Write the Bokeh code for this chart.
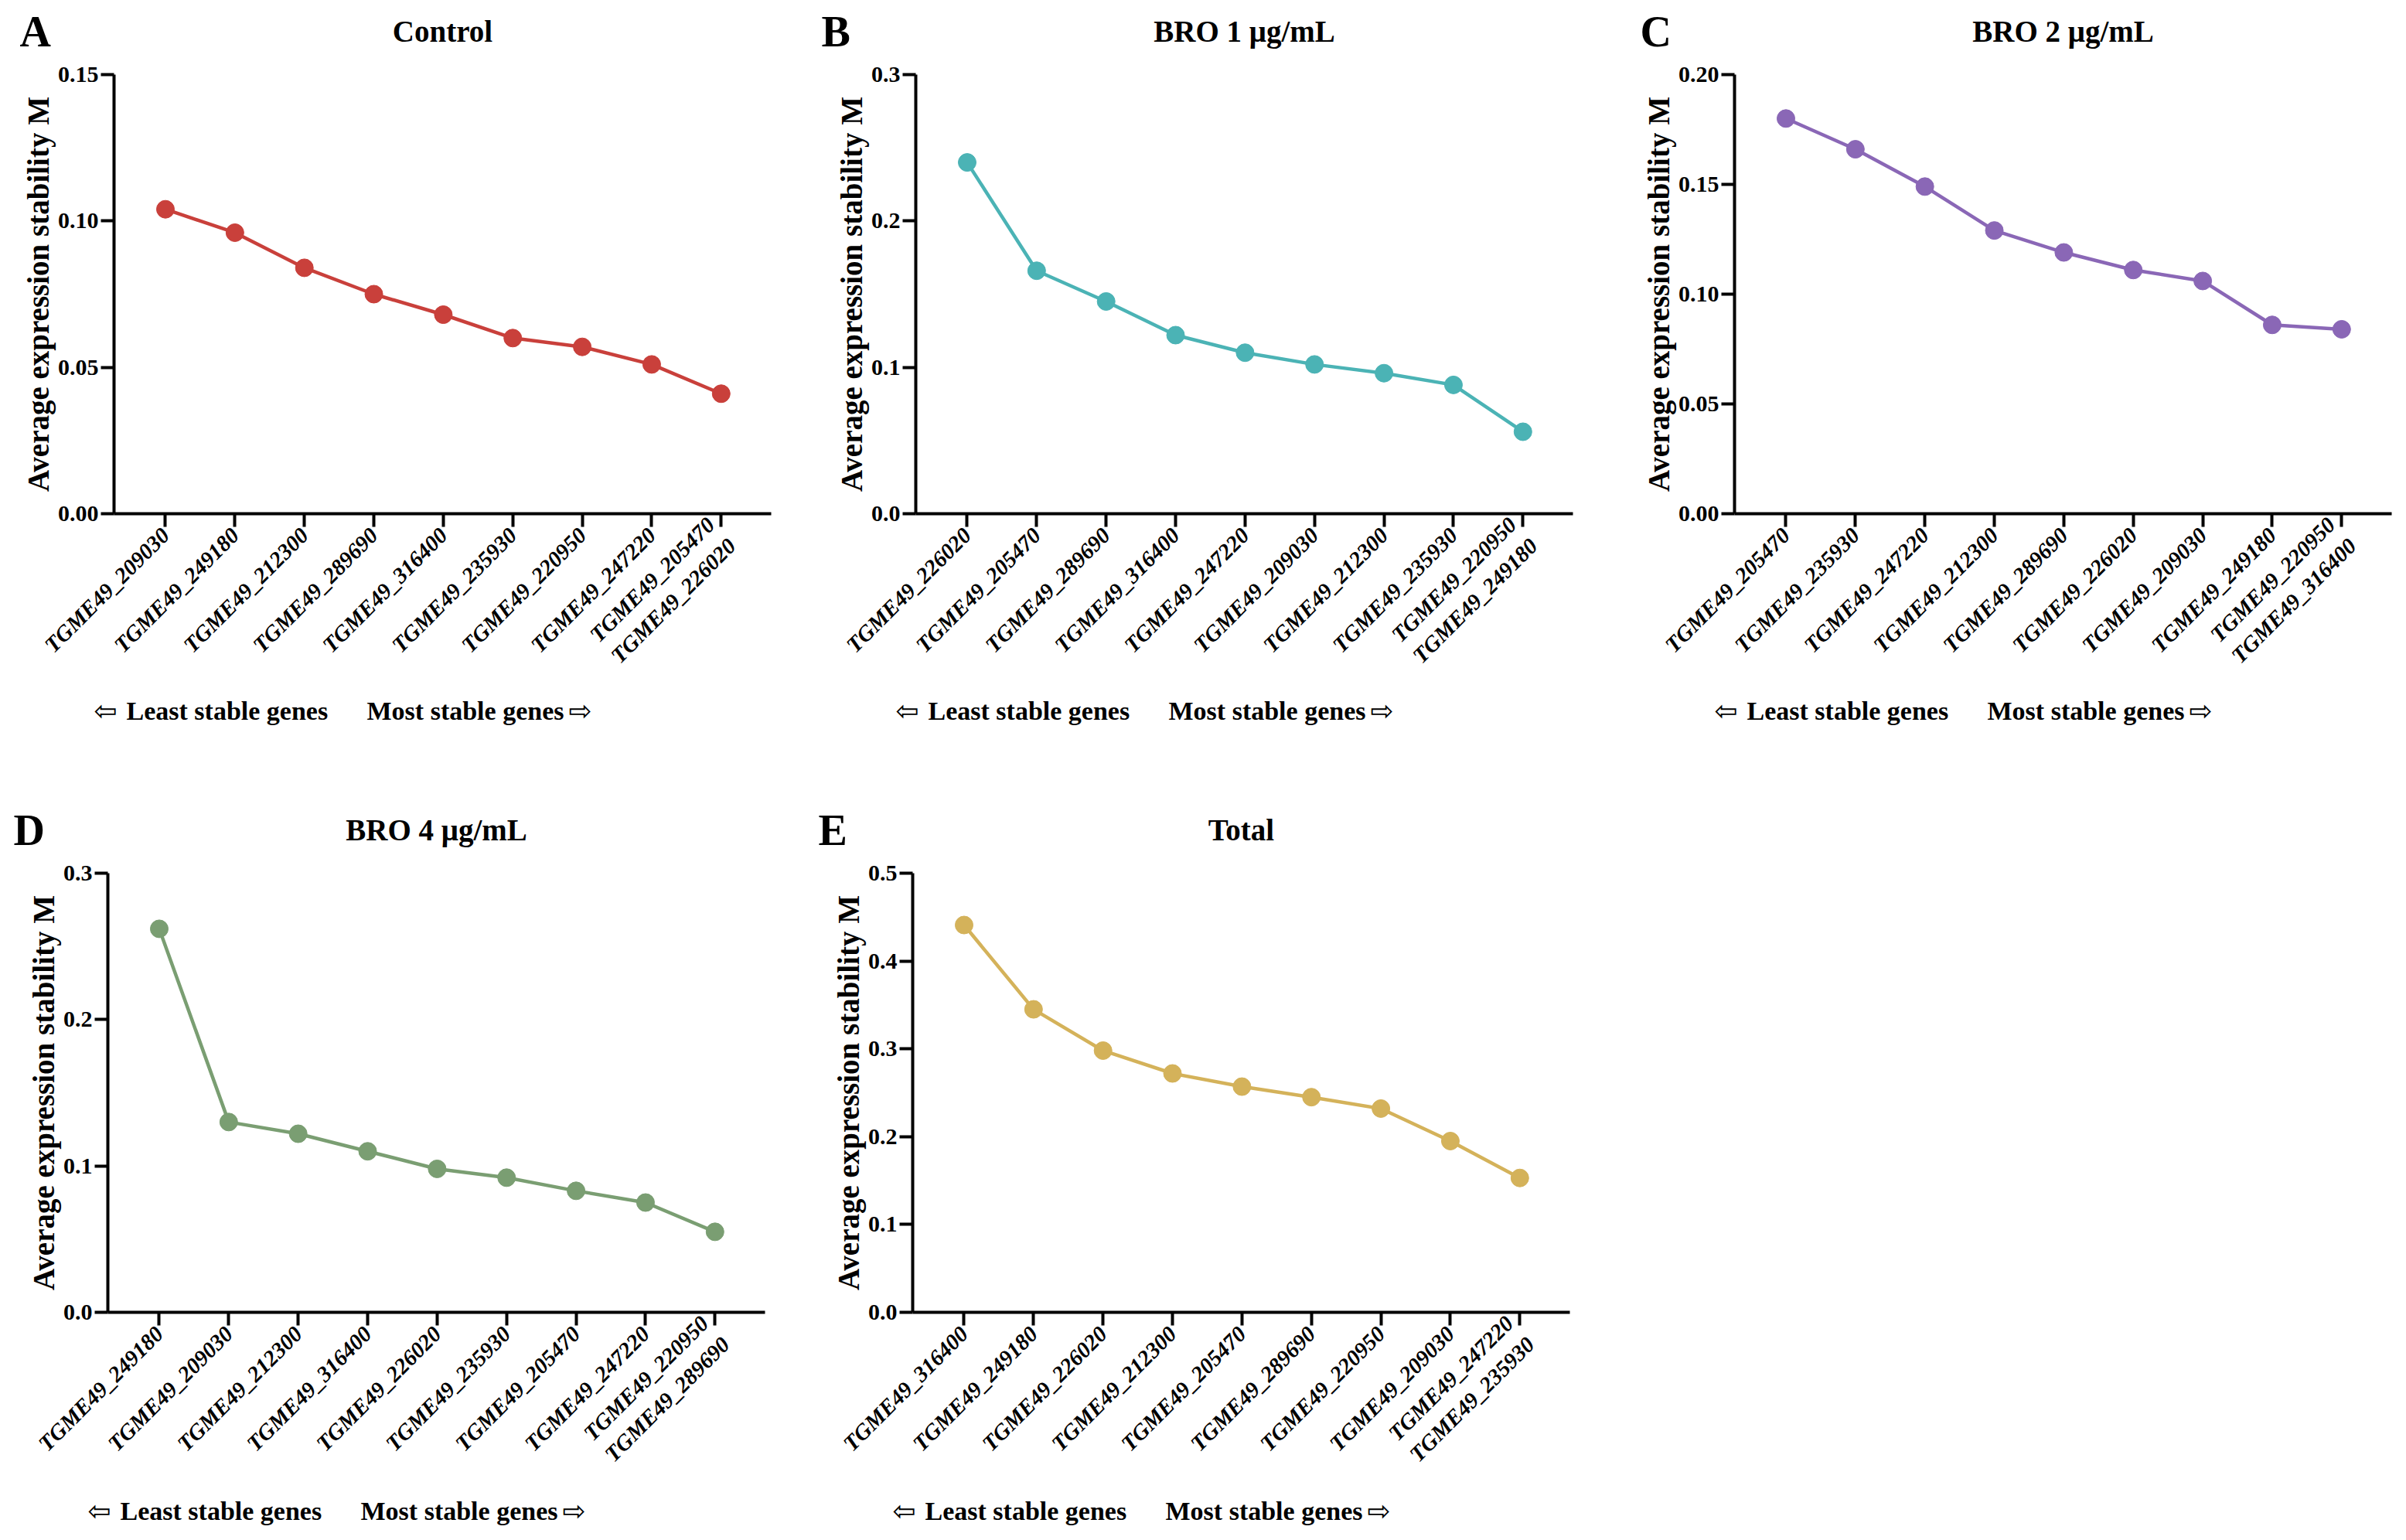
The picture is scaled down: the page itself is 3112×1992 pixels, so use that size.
import math
from bokeh.plotting import figure
from bokeh.models import Range1d, FixedTicker, NumeralTickFormatter
from bokeh.layouts import column, row
from bokeh.core.properties import value
from bokeh.embed import file_html
from bokeh.resources import INLINE

# ---------------- data ----------------
control_genes = ["TGME49_209030", "TGME49_249180", "TGME49_212300", "TGME49_289690",
                 "TGME49_316400", "TGME49_235930", "TGME49_220950", "TGME49_247220",
                 "TGME49_205470\nTGME49_226020"]
control_m = [0.104, 0.096, 0.084, 0.075, 0.068, 0.060, 0.057, 0.051, 0.041]

bro1_genes = ["TGME49_226020", "TGME49_205470", "TGME49_289690", "TGME49_316400",
              "TGME49_247220", "TGME49_209030", "TGME49_212300", "TGME49_235930",
              "TGME49_220950\nTGME49_249180"]
bro1_m = [0.240, 0.166, 0.145, 0.122, 0.110, 0.102, 0.096, 0.088, 0.056]

bro2_genes = ["TGME49_205470", "TGME49_235930", "TGME49_247220", "TGME49_212300",
              "TGME49_289690", "TGME49_226020", "TGME49_209030", "TGME49_249180",
              "TGME49_220950\nTGME49_316400"]
bro2_m = [0.180, 0.166, 0.149, 0.129, 0.119, 0.111, 0.106, 0.086, 0.084]

bro4_genes = ["TGME49_249180", "TGME49_209030", "TGME49_212300", "TGME49_316400",
              "TGME49_226020", "TGME49_235930", "TGME49_205470", "TGME49_247220",
              "TGME49_220950\nTGME49_289690"]
bro4_m = [0.262, 0.130, 0.122, 0.110, 0.098, 0.092, 0.083, 0.075, 0.055]

total_genes = ["TGME49_316400", "TGME49_249180", "TGME49_226020", "TGME49_212300",
               "TGME49_205470", "TGME49_289690", "TGME49_220950", "TGME49_209030",
               "TGME49_247220\nTGME49_235930"]
total_m = [0.441, 0.345, 0.298, 0.272, 0.257, 0.245, 0.232, 0.195, 0.153]

control_yticks = [0.0, 0.05, 0.10, 0.15]
bro1_yticks = [0.0, 0.1, 0.2, 0.3]
bro2_yticks = [0.0, 0.05, 0.10, 0.15, 0.20]
bro4_yticks = [0.0, 0.1, 0.2, 0.3]
total_yticks = [0.0, 0.1, 0.2, 0.3, 0.4, 0.5]

row1_letters = ["A", "B", "C"]
row1_titles = ["Control", "BRO 1 \u03bcg/mL", "BRO 2 \u03bcg/mL"]
row2_letters = ["D", "E"]
row2_titles = ["BRO 4 \u03bcg/mL", "Total"]

YLABEL = "Average expression stability M"
NOTE_LEFT = "Least stable genes"
NOTE_RIGHT = "Most stable genes"
ARROW_LEFT = "\u21e6"
ARROW_RIGHT = "\u21e8"
SERIF = "Liberation Serif"

FW, FH = 850, 568
PANEL_W = 1032
TOP_H = 76
MAIN_TOP = 20
MAIN_BOTTOM = 230

row1_left = [147, 152, 179]
row2_left = [139, 148]


def make_panel(genes, m, color, yticks, yfmt, left):
    p = figure(frame_width=FW, frame_height=FH,
               min_border_left=left, min_border_right=PANEL_W - FW - left,
               min_border_top=MAIN_TOP, min_border_bottom=MAIN_BOTTOM,
               x_range=Range1d(-0.74, 8.72), y_range=Range1d(yticks[0], yticks[-1]),
               output_backend="svg", toolbar_location=None)
    p.outline_line_color = None
    p.xgrid.grid_line_color = None
    p.ygrid.grid_line_color = None

    xs = list(range(len(m)))
    p.line(xs, m, line_color=color, line_width=4.5)
    p.scatter(xs, m, size=23, fill_color=color, line_color=color)

    xa = p.xaxis[0]
    xa.ticker = FixedTicker(ticks=xs)
    xa.major_label_overrides = {i: g for i, g in enumerate(genes)}
    xa.major_label_orientation = math.pi / 4
    xa.major_label_text_font = SERIF
    xa.major_label_text_font_style = "bold italic"
    xa.major_label_text_font_size = "29px"
    xa.major_label_text_color = "black"
    xa.major_label_standoff = 6

    ya = p.yaxis[0]
    ya.ticker = FixedTicker(ticks=yticks)
    ya.formatter = NumeralTickFormatter(format=yfmt)
    ya.major_label_text_font = SERIF
    ya.major_label_text_font_style = "bold"
    ya.major_label_text_font_size = "30px"
    ya.major_label_text_color = "black"
    ya.major_label_standoff = 3
    ya.axis_label = YLABEL
    ya.axis_label_text_font = SERIF
    ya.axis_label_text_font_style = "bold"
    ya.axis_label_text_font_size = "39px"
    ya.axis_label_text_color = "black"
    ya.axis_label_standoff = 1

    for ax in (xa, ya):
        ax.axis_line_width = 4
        ax.axis_line_color = "black"
        ax.major_tick_line_width = 4
        ax.major_tick_line_color = "black"
        ax.major_tick_out = 17
        ax.major_tick_in = 0
        ax.minor_tick_line_color = None
    return p


def strip(height):
    w = 3 * PANEL_W
    s = figure(width=w, height=height, frame_width=w, frame_height=height,
               x_range=Range1d(0, w), y_range=Range1d(0, height),
               min_border=0, x_axis_location=None, y_axis_location=None,
               output_backend="svg", toolbar_location=None)
    s.outline_line_color = None
    s.xgrid.grid_line_color = None
    s.ygrid.grid_line_color = None
    return s


def heading(letters, titles, lefts):
    s = strip(TOP_H)
    xl = [i * PANEL_W + lf - 122 for i, lf in enumerate(lefts)]
    xt = [i * PANEL_W + lf + FW / 2 for i, lf in enumerate(lefts)]
    ys = [36] * len(letters)
    s.text(x=xl, y=ys, text=letters, text_font=value(SERIF), text_font_style="bold",
           text_font_size="56px", text_align="left", text_baseline="middle",
           text_color="black")
    s.text(x=xt, y=ys, text=titles, text_font=value(SERIF), text_font_style="bold",
           text_font_size="39px", text_align="center", text_baseline="middle",
           text_color="black")
    return s


def notes(lefts, height, mid_y):
    s = strip(height)
    xs, ts, xa, ta = [], [], [], []
    for i, lf in enumerate(lefts):
        base = i * PANEL_W + lf
        xs += [base + 16, base + 327]
        ts += [NOTE_LEFT, NOTE_RIGHT]
        xa += [base - 26, base + 588]
        ta += [ARROW_LEFT, ARROW_RIGHT]
    s.text(x=xs, y=[mid_y] * len(xs), text=ts, text_font=value(SERIF),
           text_font_style="bold", text_font_size="34px", text_align="left",
           text_baseline="middle", text_color="black")
    s.text(x=xa, y=[mid_y] * len(xa), text=ta,
           text_font=value("DejaVu Sans"), text_font_size="36px",
           text_align="left", text_baseline="middle", text_color="black")
    return s


pA = make_panel(control_genes, control_m, "#C9403B", control_yticks, "0.00", row1_left[0])
pB = make_panel(bro1_genes, bro1_m, "#4BB3B5", bro1_yticks, "0.0", row1_left[1])
pC = make_panel(bro2_genes, bro2_m, "#8A67B6", bro2_yticks, "0.00", row1_left[2])
pD = make_panel(bro4_genes, bro4_m, "#7A9E72", bro4_yticks, "0.0", row2_left[0])
pE = make_panel(total_genes, total_m, "#D4B25A", total_yticks, "0.0", row2_left[1])

layout = column(
    heading(row1_letters, row1_titles, row1_left),
    row(pA, pB, pC, spacing=0),
    notes(row1_left, 139, 114),
    heading(row2_letters, row2_titles, row2_left),
    row(pD, pE, spacing=0),
    notes(row2_left, 49, 22),
    spacing=0,
)

open("out.html", "w").write(file_html(layout, INLINE))
